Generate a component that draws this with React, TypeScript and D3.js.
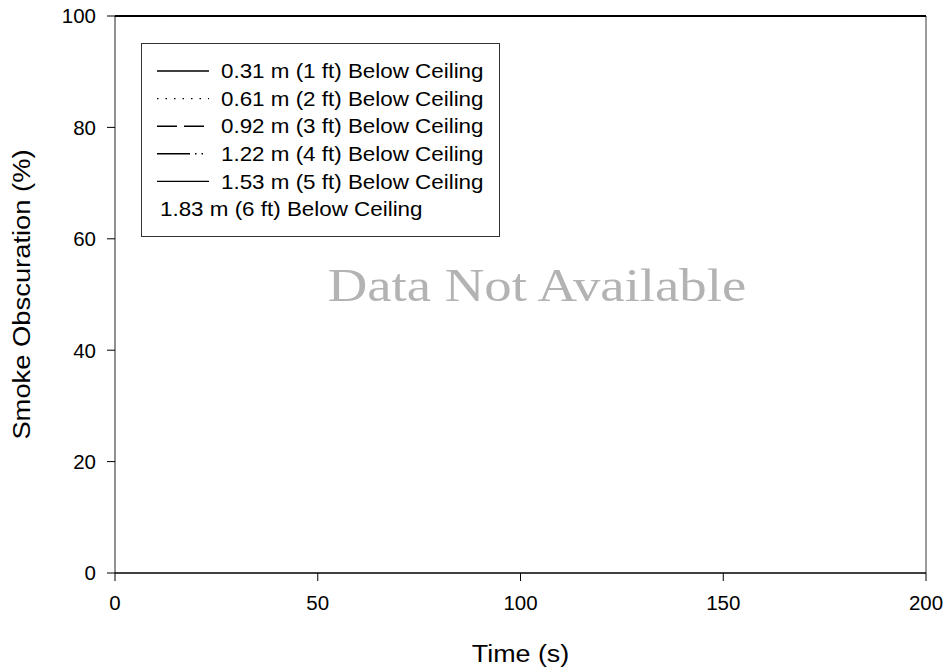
import React from "react";
import * as d3 from "d3";

const times = [0, 200];
const s1 = [100, 100];
const s2 = [100, 100];
const s3 = [100, 100];
const s4 = [100, 100];
const s5 = [100, 100];
const s6 = [100, 100];
const seriesNames = [
  "0.31 m (1 ft) Below Ceiling",
  "0.61 m (2 ft) Below Ceiling",
  "0.92 m (3 ft) Below Ceiling",
  "1.22 m (4 ft) Below Ceiling",
  "1.53 m (5 ft) Below Ceiling",
  "1.83 m (6 ft) Below Ceiling",
];
const xTicks = [0, 50, 100, 150, 200];
const yTicks = [0, 20, 40, 60, 80, 100];

const dashes = ["", "1.5,7", "20,7", "33,5,1.5,5,1.5,6", "", ""];
const showLine = [true, true, true, true, true, false];

export default function App() {
  const W = 949, H = 672;
  const L = 115, R = 926, T = 16, B = 573;
  const x = d3.scaleLinear().domain([0, 200]).range([L, R]);
  const y = d3.scaleLinear().domain([0, 100]).range([B, T]);
  const allSeries = [s1, s2, s3, s4, s5, s6];
  const line = d3.line<[number, number]>().x(d => x(d[0])).y(d => y(d[1]));
  const font = "Arial, 'Liberation Sans', sans-serif";
  const legY0 = 71, legDy = 27.6;
  return (
    <svg width={W} height={H} style={{ position: "absolute", left: 0, top: 0 }}>
      <rect width={W} height={H} fill="#fff" />
      {/* frame */}
      <line x1={L} x2={L} y1={T} y2={B} stroke="#555" strokeWidth={1.3} />
      <line x1={R} x2={R} y1={T} y2={B} stroke="#666" strokeWidth={1.3} />
      <line x1={L} x2={R} y1={B} y2={B} stroke="#000" strokeWidth={1.3} />
      <line x1={L} x2={R} y1={T} y2={T} stroke="#222" strokeWidth={1} />
      {/* y ticks */}
      {yTicks.map(t => (
        <g key={"y" + t}>
          <line x1={L - 8} x2={L} y1={y(t)} y2={y(t)} stroke="#000" strokeWidth={1} />
          <text x={L - 19} y={y(t)} dy="0.36em" textAnchor="end" fontFamily={font} fontSize={20.5}>{t}</text>
        </g>
      ))}
      {xTicks.map(t => (
        <g key={"x" + t}>
          <line x1={x(t)} x2={x(t)} y1={B} y2={B + 8} stroke="#000" strokeWidth={1} />
          <text x={x(t)} y={B + 37} textAnchor="middle" fontFamily={font} fontSize={20.5}>{t}</text>
        </g>
      ))}
      <g transform={`translate(${(L + R) / 2},662) scale(1.12,1)`}>
        <text textAnchor="middle" fontFamily={font} fontSize={24}>Time (s)</text>
      </g>
      <g transform={`translate(30,${(T + B) / 2 + 0}) rotate(-90) scale(1.14,1)`}>
        <text textAnchor="middle" fontFamily={font} fontSize={24}>Smoke Obscuration (%)</text>
      </g>
      {/* data lines */}
      {allSeries.map((s, i) => (
        <path key={"s" + i} d={line(times.map((t, j) => [t, s[j]] as [number, number])) || ""}
          fill="none" stroke="#000" strokeWidth={1.5} strokeDasharray={dashes[i] || undefined} />
      ))}
      <g transform="translate(537,301) scale(1.19,1)">
        <text textAnchor="middle" fontFamily="'Liberation Serif', 'Times New Roman', serif" fontSize={46} fill="#b3b3b3">Data Not Available</text>
      </g>
      {/* legend */}
      <rect x={141.5} y={43.5} width={358} height={193} fill="#fff" stroke="#333" strokeWidth={1} />
      {seriesNames.map((n, i) => {
        const yy = legY0 + i * legDy;
        return (
          <g key={"l" + i}>
            {showLine[i] && (
              <line x1={157} x2={209} y1={yy} y2={yy} stroke="#000" strokeWidth={1.4} strokeDasharray={dashes[i] || undefined} />
            )}
            <g transform={`translate(${showLine[i] ? 221 : 160},${yy}) scale(1.12,1)`}>
              <text dy="0.36em" fontFamily={font} fontSize={20}>{n}</text>
            </g>
          </g>
        );
      })}
    </svg>
  );
}
